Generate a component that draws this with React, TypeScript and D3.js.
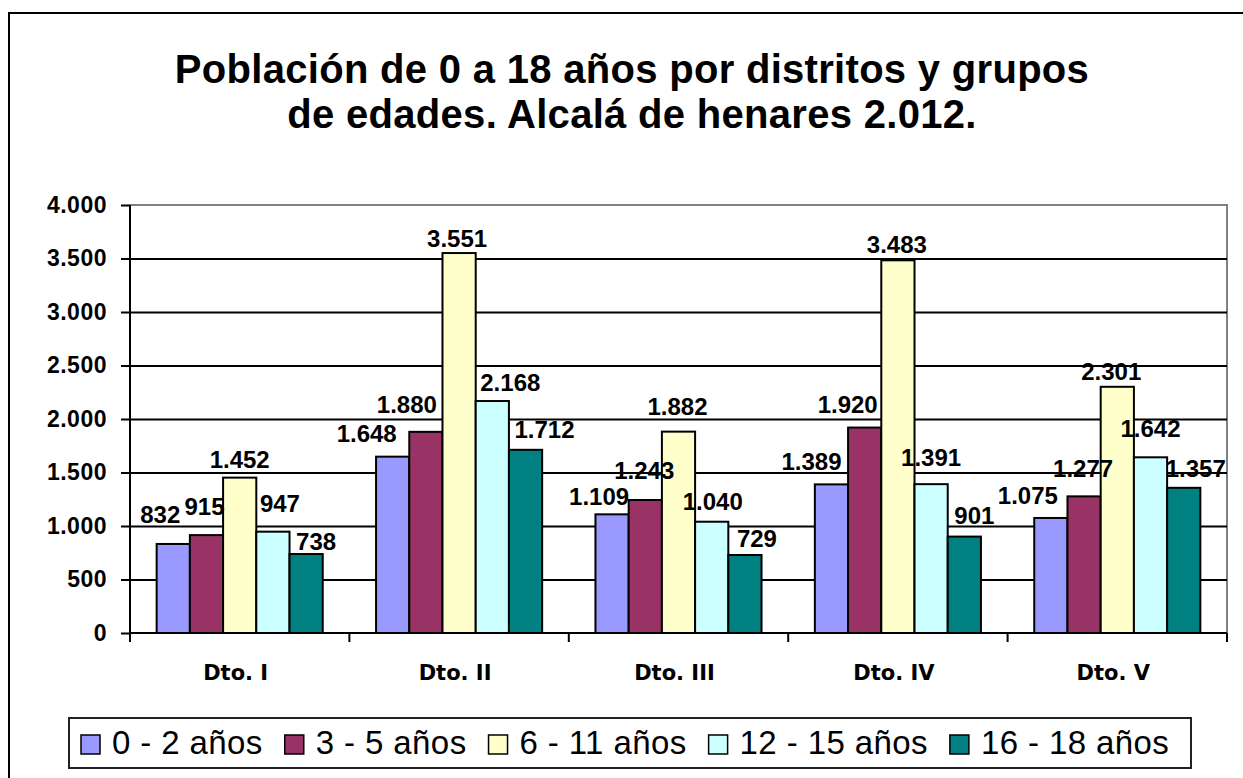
import React, { useEffect, useRef } from 'react'
import * as d3 from 'd3'

const districts = ['Dto. I', 'Dto. II', 'Dto. III', 'Dto. IV', 'Dto. V']
const ageGroups = ['0 - 2 años', '3 - 5 años', '6 - 11 años', '12 - 15 años', '16 - 18 años']

// población por grupo de edad, un valor por distrito
const age0to2 = [832, 1648, 1109, 1389, 1075]
const age3to5 = [915, 1880, 1243, 1920, 1277]
const age6to11 = [1452, 3551, 1882, 3483, 2301]
const age12to15 = [947, 2168, 1040, 1391, 1642]
const age16to18 = [738, 1712, 729, 901, 1357]

const yTicks = [0, 500, 1000, 1500, 2000, 2500, 3000, 3500, 4000]

const colors = ['#9999FF', '#993366', '#FFFFCC', '#CCFFFF', '#008080']

// the labels were moved by hand in the original: [dx, gap above bar]
const labelNudge = [
	[[-13, 21], [-2, 20], [0, 10], [7, 20], [10, 4]],
	[[-26, 15], [-19, 19], [-2, 6], [18, 10], [19, 12]],
	[[-13, 9], [-1, 21], [-1, 17], [1, 12], [12, 8]],
	[[-20, 14], [-17, 15], [-1, 7], [0, 18], [10, 13]],
	[[-23, 14], [-1, 19], [-6, 7], [0, 20], [12, 11]],
]

const W = 1243
const H = 778
const plot = { left: 130, right: 1227, top: 205, bottom: 633 }
const sans = '"Liberation Sans", Arial, sans-serif'

const es = d3.formatLocale({ decimal: ',', thousands: '.', grouping: [3], currency: ['', ''] })
const fmt = es.format(',d')

export default function App() {
	const ref = useRef<SVGSVGElement>(null)

	useEffect(() => {
		const svg = d3.select(ref.current)
		svg.selectAll('*').remove()

		const series = [age0to2, age3to5, age6to11, age12to15, age16to18]

		// outer chart frame (only left and top edges are visible)
		svg
			.append('path')
			.attr('d', `M9,${H + 10} V13 H${W + 10}`)
			.attr('fill', 'none')
			.attr('stroke', '#000')
			.attr('stroke-width', 2)

		// title
		const title = svg
			.append('text')
			.attr('x', 632)
			.attr('text-anchor', 'middle')
			.attr('font-family', sans)
			.attr('font-weight', 'bold')
			.attr('font-size', 40)
			.attr('letter-spacing', 0.3)
		title.append('tspan').attr('x', 632).attr('y', 83).text('Población de 0 a 18 años por distritos y grupos')
		title.append('tspan').attr('x', 632).attr('y', 128).text('de edades. Alcalá de henares 2.012.')

		const x0 = d3
			.scaleBand()
			.domain(districts)
			.range([plot.left, plot.right])
			.paddingInner(0.243)
			.paddingOuter(0.1215)
		const x1 = d3.scaleBand().domain(ageGroups).range([0, x0.bandwidth()])
		const y = d3.scaleLinear().domain([0, 4000]).range([plot.bottom, plot.top])

		// plot area
		svg
			.append('rect')
			.attr('x', plot.left)
			.attr('y', plot.top)
			.attr('width', plot.right - plot.left)
			.attr('height', plot.bottom - plot.top)
			.attr('fill', '#fff')
			.attr('stroke', '#808080')
			.attr('stroke-width', 2)

		// gridlines
		const grid = svg
			.append('g')
			.attr('transform', `translate(${plot.left},0)`)
			.call(
				d3
					.axisLeft(y)
					.tickValues(yTicks.filter((t) => t > 0 && t < 4000))
					.tickSize(-(plot.right - plot.left))
					.tickFormat(() => '')
			)
		grid.select('.domain').remove()
		grid.selectAll('line').attr('stroke', '#000').attr('stroke-width', 2)

		// bars
		const groups = svg
			.append('g')
			.selectAll('g')
			.data(districts)
			.join('g')
			.attr('transform', (d) => `translate(${x0(d)},0)`)

		groups
			.selectAll('rect')
			.data((d, i) => ageGroups.map((g, j) => ({ g, j, v: series[j][i] })))
			.join('rect')
			.attr('x', (d) => x1(d.g)!)
			.attr('y', (d) => y(d.v))
			.attr('width', x1.bandwidth())
			.attr('height', (d) => y(0) - y(d.v))
			.attr('fill', (d) => colors[d.j])
			.attr('stroke', '#000')
			.attr('stroke-width', 2)

		// y axis
		const yAxis = svg
			.append('g')
			.attr('transform', `translate(${plot.left},0)`)
			.call(
				d3
					.axisLeft(y)
					.tickValues(yTicks)
					.tickSizeInner(9)
					.tickSizeOuter(0)
					.tickPadding(14)
					.tickFormat((d) => fmt(d as number))
			)
		yAxis.select('.domain').remove()
		yAxis.selectAll('line').attr('stroke', '#000').attr('stroke-width', 2)
		yAxis
			.selectAll('text')
			.attr('font-family', sans)
			.attr('font-weight', 'bold')
			.attr('font-size', 23)
			.attr('letter-spacing', 0.5)
			.attr('fill', '#000')

		svg
			.append('line')
			.attr('x1', plot.left)
			.attr('x2', plot.left)
			.attr('y1', plot.top)
			.attr('y2', plot.bottom + 9)
			.attr('stroke', '#000')
			.attr('stroke-width', 2)

		// x axis
		svg
			.append('line')
			.attr('x1', plot.left)
			.attr('x2', plot.right)
			.attr('y1', plot.bottom)
			.attr('y2', plot.bottom)
			.attr('stroke', '#000')
			.attr('stroke-width', 2)

		svg
			.append('g')
			.selectAll('line')
			.data(d3.range(1, districts.length + 1))
			.join('line')
			.attr('x1', (i) => plot.left + i * x0.step())
			.attr('x2', (i) => plot.left + i * x0.step())
			.attr('y1', plot.bottom)
			.attr('y2', plot.bottom + 9)
			.attr('stroke', '#000')
			.attr('stroke-width', 2)

		svg
			.append('g')
			.selectAll('text')
			.data(districts)
			.join('text')
			.attr('x', (d) => x0(d)! + x0.bandwidth() / 2 - 4)
			.attr('y', 680)
			.attr('text-anchor', 'middle')
			.attr('font-family', '"DejaVu Sans", Verdana, sans-serif')
			.attr('font-weight', 'bold')
			.attr('font-size', 21)
			.text((d) => d)

		// data labels
		groups
			.selectAll('text')
			.data((d, i) => ageGroups.map((g, j) => ({ g, j, i, v: series[j][i] })))
			.join('text')
			.attr('x', (d) => x1(d.g)! + x1.bandwidth() / 2 + labelNudge[d.i][d.j][0])
			.attr('y', (d) => y(d.v) - labelNudge[d.i][d.j][1])
			.attr('text-anchor', 'middle')
			.attr('font-family', sans)
			.attr('font-weight', 'bold')
			.attr('font-size', 24)
			.attr('fill', '#000')
			.text((d) => fmt(d.v))

		// legend
		const legend = svg.append('g')
		legend
			.append('rect')
			.attr('x', 69)
			.attr('y', 718)
			.attr('width', 1122)
			.attr('height', 50)
			.attr('fill', '#fff')
			.attr('stroke', '#222')
			.attr('stroke-width', 2)

		let lx = 81
		ageGroups.forEach((g, j) => {
			legend
				.append('rect')
				.attr('x', lx)
				.attr('y', 735)
				.attr('width', 19)
				.attr('height', 19)
				.attr('fill', colors[j])
				.attr('stroke', '#000')
				.attr('stroke-width', 1.5)
			const t = legend
				.append('text')
				.attr('x', lx + 31)
				.attr('y', 754)
				.attr('font-family', sans)
				.attr('font-size', 33)
				.attr('letter-spacing', 0.4)
				.attr('fill', '#000')
				.text(g)
			const w = (t.node() as SVGTextElement).getComputedTextLength()
			lx = lx + 31 + w + 22
		})
	}, [])

	return (
		<svg
			ref={ref}
			width={W}
			height={H}
			viewBox={`0 0 ${W} ${H}`}
			style={{ position: 'absolute', left: 0, top: 0, background: '#fff' }}
		/>
	)
}
